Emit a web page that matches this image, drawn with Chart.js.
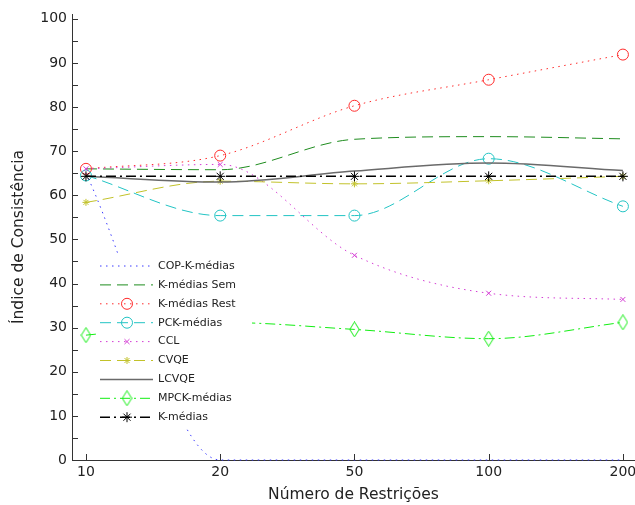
<!DOCTYPE html>
<html>
<head>
<meta charset="utf-8">
<script src="https://cdn.jsdelivr.net/npm/chart.js@4/dist/chart.umd.min.js"></script>
<style>
body { margin: 0; background: #fff; }
canvas { display: block; }
</style>
</head>
<body>
<canvas id="grafico" width="635" height="505"></canvas>
<script>
const categorias = ['10', '20', '50', '100', '200']
const yTicks = [0, 10, 20, 30, 40, 50, 60, 70, 80, 90, 100]

const copKmedias = [65, 0, 0, 0, 0]
const kmediasSem = [66, 65.8, 72.7, 73.3, 72.8]
const kmediasRest = [66, 69, 80.3, 86.2, 91.9]
const pckMedias = [64.5, 55.4, 55.4, 68.3, 57.5]
const ccl = [66, 67, 46.4, 37.8, 36.4]
const cvqe = [58.4, 63.2, 62.6, 63.3, 64.3]
const lcvqe = [64.3, 63, 65.5, 67.3, 65.6]
const mpckMedias = [28.3, 31.2, 29.6, 27.5, 31.2]
const kmedias = [64.3, 64.3, 64.3, 64.3, 64.3]

const pts = arr => arr.map((v, i) => ({ x: i, y: v }))

// losango alto como no matlab
function losango(cor) {
    const c = document.createElement('canvas')
    c.width = 11; c.height = 16
    const g = c.getContext('2d')
    g.strokeStyle = cor; g.lineWidth = 1
    g.beginPath()
    g.moveTo(5.5, 0.5); g.lineTo(10.2, 8); g.lineTo(5.5, 15.5); g.lineTo(0.8, 8)
    g.closePath(); g.stroke()
    return c
}

const pontilhado = [1.5, 4.5]
const tracejado = [11, 6]
const tracoPonto = [10, 4, 2, 4]

function serie(label, data, cor, dash, estilo, raio, largura) {
    return {
        label, data: pts(data),
        borderColor: cor, backgroundColor: 'rgba(0,0,0,0)',
        borderWidth: largura || 1, borderDash: dash,
        pointStyle: estilo || 'circle', pointRadius: estilo ? raio : 0,
        pointBorderColor: cor, pointBackgroundColor: 'rgba(0,0,0,0)',
        pointBorderWidth: 1, cubicInterpolationMode: 'monotone', clip: false
    }
}

const datasets = [
    serie('COP-K-médias', copKmedias, '#3a3aff', pontilhado),
    serie('K-médias Sem', kmediasSem, '#1e8c1e', tracejado),
    serie('K-médias Rest', kmediasRest, '#ff2a2a', pontilhado, 'circle', 5.5),
    serie('PCK-médias', pckMedias, '#22c4c4', tracejado, 'circle', 5.5),
    serie('CCL', ccl, '#d43cd4', pontilhado, 'crossRot', 3.5),
    serie('CVQE', cvqe, '#c2c22a', tracejado, 'star', 3.5),
    serie('LCVQE', lcvqe, '#6a6a6a', [], null, 0, 1.5),
    serie('MPCK-médias', mpckMedias, '#11ee11', tracoPonto, losango('#11ee11'), 6),
    serie('K-médias', kmedias, '#000000', tracoPonto, 'star', 5, 1.5)
]
datasets.forEach((d, i) => { d.order = datasets.length - i })

const eixos = {
    id: 'eixos',
    afterDraw(chart) {
        const ctx = chart.ctx
        const x = chart.scales.x, y = chart.scales.y
        ctx.save()
        ctx.strokeStyle = '#333'
        ctx.lineWidth = 1
        ctx.beginPath()
        for (let i = 0; i < yTicks.length; i++) {
            const v = yTicks[i]
            const py = Math.round(y.getPixelForValue(v)) + 0.5
            ctx.moveTo(x.left, py); ctx.lineTo(x.left + 6, py)
            if (i < yTicks.length - 1) {
                const pm = Math.round(y.getPixelForValue((v + yTicks[i + 1]) / 2)) + 0.5
                ctx.moveTo(x.left, pm); ctx.lineTo(x.left + 6, pm)
            }
        }
        categorias.forEach((c, i) => {
            const px = Math.round(x.getPixelForValue(i)) + 0.5
            ctx.moveTo(px, y.bottom); ctx.lineTo(px, y.bottom - 6)
        })
        ctx.stroke()
        ctx.restore()
    }
}

const legenda = {
    id: 'legenda',
    afterDatasetsDraw(chart) {
        const ctx = chart.ctx
        ctx.save()
        ctx.fillStyle = '#fff'
        ctx.fillRect(97, 254, 155, 173)
        chart.data.datasets.forEach((ds, i) => {
            const yy = 266 + i * 18.9
            ctx.strokeStyle = ds.borderColor
            ctx.lineWidth = ds.borderWidth
            ctx.setLineDash(ds.borderDash || [])
            ctx.beginPath()
            ctx.moveTo(100, yy); ctx.lineTo(153, yy)
            ctx.stroke()
            ctx.setLineDash([])
            if (ds.pointRadius > 0) {
                ctx.lineWidth = 1
                ctx.fillStyle = 'rgba(0,0,0,0)'
                Chart.helpers.drawPoint(ctx, { pointStyle: ds.pointStyle, radius: ds.pointRadius, borderWidth: 1, rotation: 0 }, 127, yy)
            }
            ctx.fillStyle = '#222'
            ctx.font = '11px "DejaVu Sans"'
            ctx.textBaseline = 'middle'
            ctx.fillText(ds.label, 158, yy)
        })
        ctx.restore()
    }
}

const fonte = { family: '"DejaVu Sans"', size: 14 }
const fonteTitulo = { family: '"DejaVu Sans"', size: 15.5 }

new Chart(document.getElementById('grafico').getContext('2d'), {
    type: 'line',
    data: { datasets },
    plugins: [legenda, eixos],
    options: {
        responsive: false,
        animation: false,
        layout: { autoPadding: false, padding: { top: 14, left: 0, right: 0, bottom: 0 } },
        plugins: { legend: { display: false }, tooltip: { enabled: false } },
        scales: {
            x: {
                type: 'linear', min: -0.104, max: 4.09,
                grid: { display: false, drawTicks: false },
                border: { display: true, color: '#333', width: 1 },
                afterBuildTicks: s => { s.ticks = categorias.map((c, i) => ({ value: i })) },
                afterFit: s => { s.height = 45; s.paddingLeft = 0; s.paddingRight = 0 },
                ticks: { color: '#222', font: fonte, padding: 4, maxRotation: 0, autoSkip: false,
                    callback: v => categorias[v] },
                title: { display: true, text: 'Número de Restrições', color: '#222',
                    font: fonteTitulo, padding: { top: 0, bottom: 1 } }
            },
            y: {
                min: 0, max: 101.1,
                grid: { display: false, drawTicks: false },
                border: { display: true, color: '#333', width: 1 },
                afterBuildTicks: s => { s.ticks = yTicks.map(v => ({ value: v })) },
                afterFit: s => { s.width = 72; s.paddingTop = 0; s.paddingBottom = 0 },
                ticks: { color: '#222', font: fonte, padding: 5 },
                title: { display: true, text: 'Índice de Consistência', color: '#222',
                    font: fonteTitulo, padding: { top: 10, bottom: 0 } }
            }
        }
    }
})
</script>
</body>
</html>
